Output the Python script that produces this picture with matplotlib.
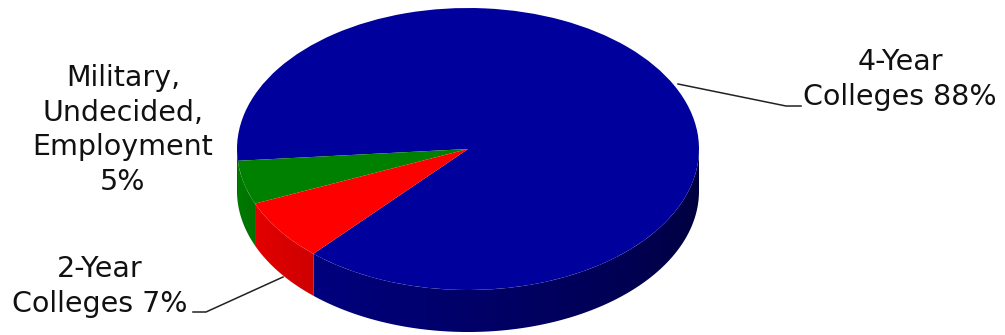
import matplotlib.pyplot as plt
import numpy as np
from matplotlib.colors import to_rgb
from matplotlib.patches import Polygon

# Post-graduation plans (percent of class)
labels = ["4-Year\nColleges 88%", "Military,\nUndecided,\nEmployment\n5%", "2-Year\nColleges 7%"]
shares = [88, 5, 7]
top_colors = ["#00009c", "#008000", "#ff0000"]

# Ellipse geometry in pixels (image y grows downward)
W, H = 1005, 335
CX, CY = 468, 149
RX, RY = 231, 141
DEPTH = 42
START = 228


def side_shade(t):
    """Darkening factor for the rim wall, by angle in degrees (180..360)."""
    return 0.97 - 0.6 * (t - 180) / 180


fig = plt.figure(figsize=(W / 100, H / 100), dpi=100)

# pie axes: unit circle stretched to the ellipse
ax = fig.add_axes([0, 0, 1, 1])
wedges, _ = ax.pie(shares, colors=top_colors, startangle=START,
                   counterclock=True, radius=1.0,
                   wedgeprops=dict(linewidth=0, zorder=3))

# rim wall under the visible (front) half of each wedge, shaded by angle
dep = DEPTH / RY
xs_grid = np.linspace(-1, 1, 600)
ang = 360 - np.degrees(np.arccos(xs_grid))
for w, col in zip(wedges, top_colors):
    base = np.array(to_rgb(col))
    for lo, hi in [(180, 360), (540, 720)]:
        a, b = max(w.theta1, lo), min(w.theta2, hi)
        if b <= a:
            continue
        t = np.radians(np.linspace(a, b, 200))
        xs = np.concatenate([np.cos(t), np.cos(t[::-1])])
        ys = np.concatenate([np.sin(t), np.sin(t[::-1]) - dep])
        poly = Polygon(np.column_stack([xs, ys]), closed=True,
                       facecolor="none", edgecolor="none")
        ax.add_patch(poly)
        grad = np.clip(base[None, :] * side_shade(ang)[:, None], 0, 1)
        img = ax.imshow(grad[None, :, :], extent=(-1, 1, -1 - dep, 0),
                        aspect="auto", interpolation="bilinear", zorder=2)
        img.set_clip_path(poly)

ax.set_aspect("auto")
ax.set_xlim(-CX / RX, (W - CX) / RX)
ax.set_ylim(-(H - CY) / RY, CY / RY)
ax.axis("off")

# overlay axes in pixel coordinates for labels and leader lines
ov = fig.add_axes([0, 0, 1, 1], facecolor="none")
ov.set_xlim(0, W)
ov.set_ylim(H, 0)
ov.axis("off")

txt = dict(fontsize=20.5, color="#111111", ha="center", va="baseline",
           family="DejaVu Sans", linespacing=1.3, multialignment="center")
ov.text(900, 105, labels[0], **txt)
ov.text(123, 190, labels[1], **txt)
ov.text(100, 312, labels[2], **txt)

line_kw = dict(color="#222222", lw=1.1)
ov.plot([678, 786, 801], [84, 106, 106], **line_kw)
ov.plot([193, 206, 283], [312, 312, 277], **line_kw)

fig.savefig("out.png", dpi=100, facecolor="white")
